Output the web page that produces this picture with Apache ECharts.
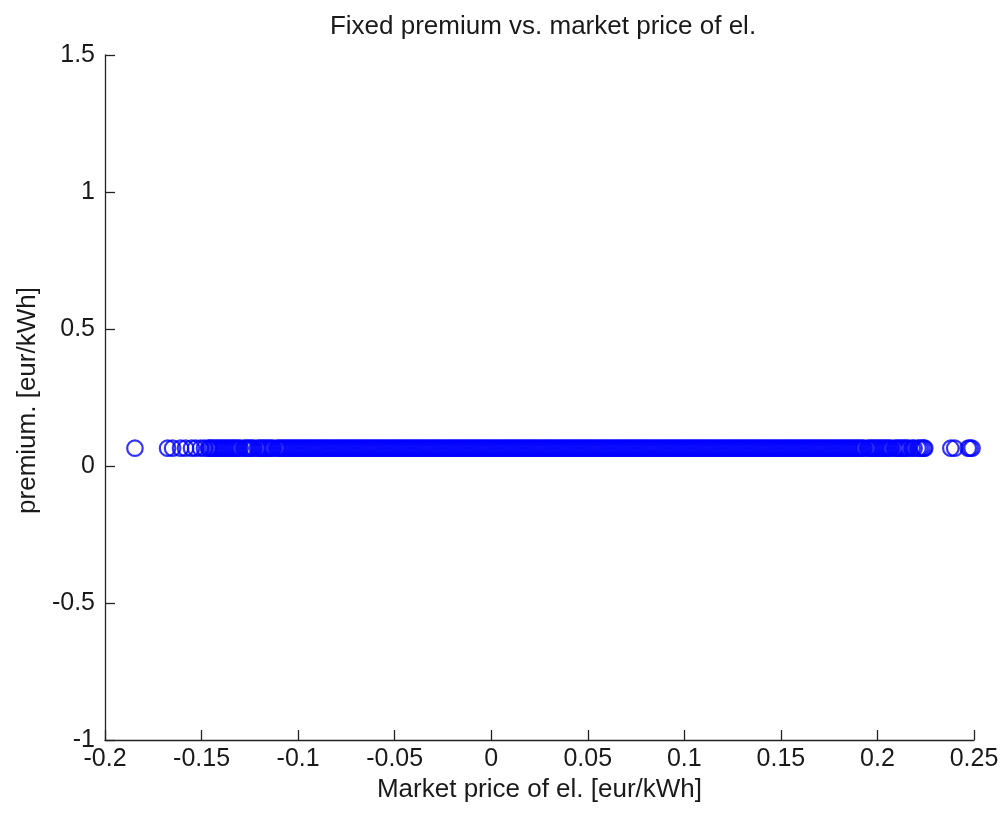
<!DOCTYPE html>
<html>
<head>
<meta charset="utf-8">
<script src="https://cdn.jsdelivr.net/npm/echarts@6/dist/echarts.min.js"></script>
<style>
  html, body { margin: 0; padding: 0; background: #fff; }
  #chart { width: 1003px; height: 814px; }
</style>
</head>
<body>
<div id="chart"></div>
<script>
// x ticks / y ticks
const xTicks = [-0.2, -0.15, -0.1, -0.05, 0, 0.05, 0.1, 0.15, 0.2, 0.25];
const yTicks = [-1, -0.5, 0, 0.5, 1, 1.5];

// fixed premium [eur/kWh]
const premium = 0.065;

// market prices (isolated low prices)
const priceLow = [-0.1845, -0.1676, -0.165, -0.1609, -0.1583, -0.1552, -0.1531, -0.1505, -0.1485, -0.1464];

// the dense band of hourly prices
const priceBand = [
  -0.146, -0.145, -0.144, -0.143, -0.142, -0.141, -0.140, -0.139, -0.138, -0.137,
  -0.136, -0.135, -0.134, -0.133, -0.132, -0.131, -0.130, -0.128, -0.127,
  -0.126, -0.125, -0.124, -0.123, -0.121, -0.120, -0.119, -0.118, -0.117,
  -0.116, -0.115, -0.114, -0.113, -0.111, -0.110, -0.109, -0.108, -0.107,
  -0.106, -0.105, -0.104, -0.103, -0.102, -0.101, -0.100, -0.099, -0.098, -0.097,
  -0.096, -0.095, -0.094, -0.093, -0.092, -0.091, -0.090, -0.089, -0.088, -0.087,
  -0.086, -0.085, -0.084, -0.083, -0.082, -0.081, -0.080, -0.079, -0.078, -0.077,
  -0.076, -0.075, -0.074, -0.073, -0.072, -0.071, -0.070, -0.069, -0.068, -0.067,
  -0.066, -0.065, -0.064, -0.063, -0.062, -0.061, -0.060, -0.059, -0.058, -0.057,
  -0.056, -0.055, -0.054, -0.053, -0.052, -0.051, -0.050, -0.049, -0.048, -0.047,
  -0.046, -0.045, -0.044, -0.043, -0.042, -0.041, -0.040, -0.039, -0.038, -0.037,
  -0.036, -0.035, -0.034, -0.033, -0.032, -0.031, -0.030, -0.029, -0.028, -0.027,
  -0.026, -0.025, -0.024, -0.023, -0.022, -0.021, -0.020, -0.019, -0.018, -0.017,
  -0.016, -0.015, -0.014, -0.013, -0.012, -0.011, -0.010, -0.009, -0.008, -0.007,
  -0.006, -0.005, -0.004, -0.003, -0.002, -0.001, 0.000, 0.001, 0.002, 0.003,
  0.004, 0.005, 0.006, 0.007, 0.008, 0.009, 0.010, 0.011, 0.012, 0.013,
  0.014, 0.015, 0.016, 0.017, 0.018, 0.019, 0.020, 0.021, 0.022, 0.023,
  0.024, 0.025, 0.026, 0.027, 0.028, 0.029, 0.030, 0.031, 0.032, 0.033,
  0.034, 0.035, 0.036, 0.037, 0.038, 0.039, 0.040, 0.041, 0.042, 0.043,
  0.044, 0.045, 0.046, 0.047, 0.048, 0.049, 0.050, 0.051, 0.052, 0.053,
  0.054, 0.055, 0.056, 0.057, 0.058, 0.059, 0.060, 0.061, 0.062, 0.063,
  0.064, 0.065, 0.066, 0.067, 0.068, 0.069, 0.070, 0.071, 0.072, 0.073,
  0.074, 0.075, 0.076, 0.077, 0.078, 0.079, 0.080, 0.081, 0.082, 0.083,
  0.084, 0.085, 0.086, 0.087, 0.088, 0.089, 0.090, 0.091, 0.092, 0.093,
  0.094, 0.095, 0.096, 0.097, 0.098, 0.099, 0.100, 0.101, 0.102, 0.103,
  0.104, 0.105, 0.106, 0.107, 0.108, 0.109, 0.110, 0.111, 0.112, 0.113,
  0.114, 0.115, 0.116, 0.117, 0.118, 0.119, 0.120, 0.121, 0.122, 0.123,
  0.124, 0.125, 0.126, 0.127, 0.128, 0.129, 0.130, 0.131, 0.132, 0.133,
  0.134, 0.135, 0.136, 0.137, 0.138, 0.139, 0.140, 0.141, 0.142, 0.143,
  0.144, 0.145, 0.146, 0.147, 0.148, 0.149, 0.150, 0.151, 0.152, 0.153,
  0.154, 0.155, 0.156, 0.157, 0.158, 0.159, 0.160, 0.161, 0.162, 0.163,
  0.164, 0.165, 0.166, 0.167, 0.168, 0.169, 0.170, 0.171, 0.172, 0.173,
  0.174, 0.175, 0.176, 0.177, 0.178, 0.179, 0.180, 0.181, 0.182, 0.183,
  0.184, 0.185, 0.186, 0.187, 0.188, 0.189, 0.190, 0.191, 0.192, 0.193,
  0.195, 0.196, 0.197, 0.198, 0.199, 0.200, 0.201, 0.202, 0.203,
  0.204, 0.205, 0.206, 0.207, 0.209, 0.210, 0.211, 0.212, 0.213,
  0.214, 0.215, 0.216, 0.218, 0.219, 0.221, 0.222, 0.223, 0.224
];

// isolated high prices
const priceHigh = [0.2245, 0.238, 0.240, 0.247, 0.248, 0.249];

const prices = priceLow.concat(priceBand, priceHigh);

const chart = echarts.init(document.getElementById("chart"));

const textColor = "#1a1a1a";
const fontFamily = "'Liberation Sans', Arial, sans-serif";

chart.setOption({
  animation: false,
  backgroundColor: "#fff",
  textStyle: { fontFamily: fontFamily },

  title: {
    text: "Fixed premium vs. market price of el.",
    left: 538,
    textAlign: "center",
    top: 9,
    textStyle: {
      fontSize: 26,
      fontWeight: "normal",
      color: textColor,
      fontFamily: fontFamily,
    },
  },

  grid: {
    left: 105,
    right: 29,
    top: 55,
    bottom: 74,
  },

  xAxis: {
    type: "value",
    min: xTicks[0],
    max: xTicks[xTicks.length - 1],
    interval: 0.05,
    name: "Market price of el. [eur/kWh]",
    nameLocation: "middle",
    nameGap: 26,
    nameTextStyle: { fontSize: 26, color: textColor, fontFamily: fontFamily },
    axisLine: { onZero: false, lineStyle: { color: "#222", width: 1.3 } },
    axisTick: { inside: true, length: 10, lineStyle: { color: "#222", width: 1.3 } },
    axisLabel: {
      fontSize: 25,
      color: textColor,
      margin: 7,
      showMinLabel: true,
      showMaxLabel: true,
      formatter: (v) => {
        const t = xTicks.find((x) => Math.abs(x - v) < 1e-9);
        return t === undefined ? "" : String(t);
      },
    },
    splitLine: { show: false },
  },

  yAxis: {
    type: "value",
    min: yTicks[0],
    max: yTicks[yTicks.length - 1],
    interval: 0.5,
    name: "premium. [eur/kWh]",
    nameLocation: "middle",
    nameGap: 62,
    nameTextStyle: {
      fontSize: 26,
      color: textColor,
      fontFamily: fontFamily,
      padding: [0, 6, 0, 0],
    },
    axisLine: { show: true, onZero: false, lineStyle: { color: "#222", width: 1.3 } },
    axisTick: { show: true, inside: true, length: 10, lineStyle: { color: "#222", width: 1.3 } },
    axisLabel: {
      fontSize: 25,
      color: textColor,
      margin: 10,
      showMinLabel: true,
      showMaxLabel: true,
      formatter: (v) => {
        const t = yTicks.find((y) => Math.abs(y - v) < 1e-9);
        return t === undefined ? "" : String(t);
      },
    },
    splitLine: { show: false },
  },

  series: [
    {
      type: "scatter",
      data: prices.map((p) => [p, premium]),
      symbol: "circle",
      symbolSize: 15.5,
      itemStyle: {
        color: "rgba(0,0,0,0)",
        borderColor: "#0000ff",
        borderWidth: 2.2,
      },
      emphasis: { disabled: true },
    },
  ],
});
</script>
</body>
</html>
